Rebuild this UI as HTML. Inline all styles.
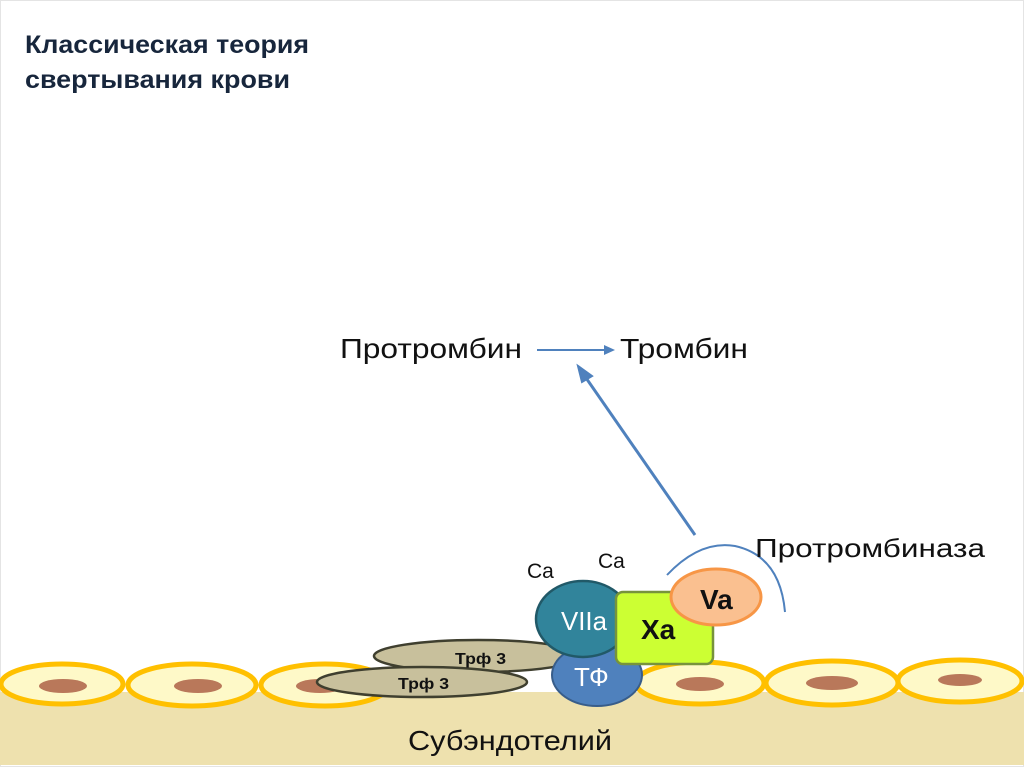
<!DOCTYPE html>
<html><head><meta charset="utf-8"><style>
html,body{margin:0;padding:0;background:#fff}
svg{display:block}
text{font-family:"Liberation Sans","DejaVu Sans",sans-serif}
</style></head><body>
<svg width="1024" height="767" viewBox="0 0 1024 767" xmlns="http://www.w3.org/2000/svg">
<rect x="0.5" y="0.5" width="1023" height="766" fill="#fff" stroke="#e4e4e4"/>
<text x="25" y="53" font-size="25" font-weight="bold" fill="#17263c" textLength="284" lengthAdjust="spacingAndGlyphs">Классическая теория</text>
<text x="25" y="88" font-size="25" font-weight="bold" fill="#17263c" textLength="265" lengthAdjust="spacingAndGlyphs">свертывания крови</text>

<rect x="0" y="692" width="1024" height="73" fill="#EEE1AE"/>
<g stroke="#FFC000" stroke-width="5" fill="#FEF9C8">
<ellipse cx="62" cy="684" rx="61" ry="20"/>
<ellipse cx="192" cy="685" rx="64" ry="21"/>
<ellipse cx="325" cy="685" rx="64" ry="21"/>
<ellipse cx="700" cy="683" rx="64" ry="21"/>
<ellipse cx="832" cy="683" rx="66" ry="22"/>
<ellipse cx="960" cy="681" rx="62" ry="21"/>
</g>
<g fill="#B9785A">
<ellipse cx="63" cy="686" rx="24" ry="7"/>
<ellipse cx="198" cy="686" rx="24" ry="7"/>
<ellipse cx="320" cy="686" rx="24" ry="7"/>
<ellipse cx="700" cy="684" rx="24" ry="7"/>
<ellipse cx="832" cy="683" rx="26" ry="7"/>
<ellipse cx="960" cy="680" rx="22" ry="6"/>
</g>

<ellipse cx="478" cy="656" rx="104" ry="16" fill="#C8C09C" stroke="#3F3F2F" stroke-width="2.5"/>
<ellipse cx="422" cy="682" rx="105" ry="15" fill="#C8C09C" stroke="#3F3F2F" stroke-width="2.5"/>
<text x="455" y="664" font-size="16" font-weight="bold" fill="#111" textLength="51" lengthAdjust="spacingAndGlyphs">Трф 3</text>
<text x="398" y="689" font-size="16" font-weight="bold" fill="#111" textLength="51" lengthAdjust="spacingAndGlyphs">Трф 3</text>

<ellipse cx="597" cy="675" rx="45" ry="31" fill="#4F81BD" stroke="#385D8A" stroke-width="2"/>
<text x="574" y="686" font-size="26" fill="#fff">ТФ</text>
<ellipse cx="583" cy="619" rx="47" ry="38" fill="#31849B" stroke="#215968" stroke-width="2.5"/>
<text x="561" y="630" font-size="26" fill="#fff" textLength="46" lengthAdjust="spacingAndGlyphs">VIIa</text>

<rect x="616" y="592" width="97" height="72" rx="7" fill="#CCFF33" stroke="#77933C" stroke-width="2.5"/>
<text x="641" y="639" font-size="28" font-weight="bold" fill="#111">Xa</text>
<ellipse cx="716" cy="597" rx="45" ry="28" fill="#FAC090" stroke="#F79646" stroke-width="3"/>
<text x="700" y="609" font-size="28" font-weight="bold" fill="#111">Va</text>

<path d="M667 575 Q 700 540 735 546 Q 780 556 785 612" fill="none" stroke="#4F81BD" stroke-width="2"/>
<line x1="695" y1="535" x2="584" y2="375" stroke="#4F81BD" stroke-width="3"/>
<path d="M578 366 L592 376 L582 382 Z" fill="#4F81BD" stroke="#4F81BD" stroke-width="2"/>
<line x1="537" y1="350" x2="608" y2="350" stroke="#4F81BD" stroke-width="2"/>
<path d="M615 350 L604 345 L604 355 Z" fill="#4F81BD"/>

<text x="340" y="358" font-size="28" fill="#111" textLength="182" lengthAdjust="spacingAndGlyphs">Протромбин</text>
<text x="620" y="358" font-size="28" fill="#111" textLength="128" lengthAdjust="spacingAndGlyphs">Тромбин</text>
<text x="755" y="557" font-size="26" fill="#111" textLength="230" lengthAdjust="spacingAndGlyphs">Протромбиназа</text>
<text x="527" y="578" font-size="21" fill="#111">Ca</text>
<text x="598" y="568" font-size="21" fill="#111">Ca</text>
<text x="408" y="750" font-size="28" fill="#111" textLength="204" lengthAdjust="spacingAndGlyphs">Субэндотелий</text>
</svg>
</body></html>
